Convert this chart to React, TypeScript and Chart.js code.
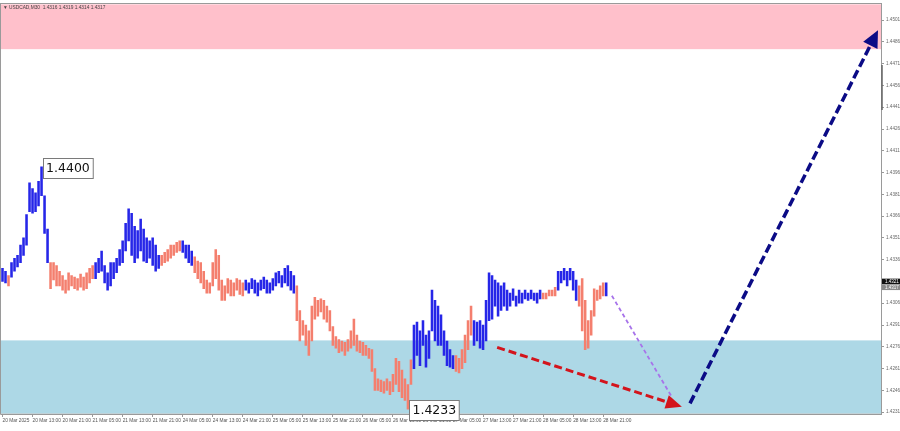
import { useEffect, useRef } from "react";
import { Chart, registerables } from "chart.js";

Chart.register(...registerables);

// ---------- data ----------
const symbolHeader = "\u25BC USDCAD,M30  1.4316 1.4319 1.4314 1.4317";

const timeLabels = [
  "20 Mar 2025", "20 Mar 13:00", "20 Mar 21:00", "21 Mar 05:00", "21 Mar 13:00",
  "21 Mar 21:00", "24 Mar 05:00", "24 Mar 13:00", "24 Mar 21:00", "25 Mar 05:00",
  "25 Mar 13:00", "25 Mar 21:00", "26 Mar 05:00", "26 Mar 13:00", "26 Mar 21:00",
  "27 Mar 05:00", "27 Mar 13:00", "27 Mar 21:00", "28 Mar 05:00", "28 Mar 13:00",
  "28 Mar 21:00",
];
const slotCount = 293;
const labelEvery = 10;

const yTicks = [
  1.4231, 1.4246, 1.4261, 1.4276, 1.4291, 1.4306, 1.4321, 1.4336, 1.4351, 1.4366,
  1.4381, 1.4396, 1.4411, 1.4426, 1.4441, 1.4456, 1.4471, 1.4486, 1.4501,
];
const yMin = 1.42297;
const yMax = 1.45119;

const highs = [
  1.4330, 1.4328, 1.4325, 1.4334, 1.4337, 1.4339, 1.4346, 1.4351, 1.4367, 1.4389,
  1.4385, 1.4382, 1.4390, 1.4400, 1.4380, 1.4357, 1.4334, 1.4334, 1.4332, 1.4328,
  1.4325, 1.4322, 1.4327, 1.4325, 1.4324, 1.4323, 1.4326, 1.4324, 1.4327, 1.4330,
  1.4332, 1.4334, 1.4337, 1.4342, 1.4332, 1.4327, 1.4334, 1.4334, 1.4337, 1.4343,
  1.4349, 1.4361, 1.4371, 1.4368, 1.4359, 1.4356, 1.4364, 1.4357, 1.4351, 1.4349,
  1.4351, 1.4346, 1.4339, 1.4339, 1.4341, 1.4343, 1.4346, 1.4346, 1.4348, 1.4349,
  1.4349, 1.4346, 1.4346, 1.4342, 1.4338, 1.4335, 1.4334, 1.4328, 1.4322, 1.4320,
  1.4334, 1.4343, 1.4339, 1.4322, 1.4318, 1.4323, 1.4322, 1.4320, 1.4323, 1.4322,
  1.4320, 1.4322, 1.4320, 1.4323, 1.4322, 1.4320, 1.4322, 1.4324, 1.4322, 1.4320,
  1.4323, 1.4327, 1.4328, 1.4325, 1.4330, 1.4332, 1.4328, 1.4325, 1.4318, 1.4301,
  1.4294, 1.4291, 1.4287, 1.4304, 1.4310, 1.4308, 1.4309, 1.4308, 1.4304, 1.4301,
  1.4290, 1.4283, 1.4281, 1.4280, 1.4279, 1.4281, 1.4287, 1.4295, 1.4284, 1.4280,
  1.4279, 1.4277, 1.4275, 1.4274, 1.4261, 1.4254, 1.4253, 1.4252, 1.4254, 1.4252,
  1.4257, 1.4268, 1.4266, 1.4260, 1.4254, 1.4250, 1.4267, 1.4291, 1.4293, 1.4287,
  1.4294, 1.4284, 1.4287, 1.4315, 1.4308, 1.4304, 1.4298, 1.4287, 1.4280, 1.4274,
  1.4270, 1.4270, 1.4268, 1.4274, 1.4284, 1.4294, 1.4304, 1.4294, 1.4293, 1.4294,
  1.4291, 1.4308, 1.4327, 1.4325, 1.4322, 1.4320, 1.4318, 1.4320, 1.4315, 1.4313,
  1.4316, 1.4311, 1.4315, 1.4313, 1.4315, 1.4313, 1.4315, 1.4313, 1.4313, 1.4315,
  1.4313, 1.4313, 1.4315, 1.4315, 1.4317, 1.4328, 1.4328, 1.4330, 1.4328, 1.4330,
  1.4328, 1.4322, 1.4318, 1.4323, 1.4308, 1.4294, 1.4301, 1.4316, 1.4315, 1.4318,
  1.4320, 1.4320,
];

const lows = [
  1.4321, 1.4320, 1.4318, 1.4324, 1.4328, 1.4331, 1.4334, 1.4339, 1.4346, 1.4369,
  1.4368, 1.4369, 1.4373, 1.4380, 1.4354, 1.4334, 1.4316, 1.4322, 1.4318, 1.4318,
  1.4315, 1.4313, 1.4315, 1.4318, 1.4316, 1.4315, 1.4317, 1.4315, 1.4316, 1.4320,
  1.4323, 1.4323, 1.4327, 1.4328, 1.4320, 1.4315, 1.4318, 1.4323, 1.4327, 1.4332,
  1.4334, 1.4342, 1.4349, 1.4339, 1.4334, 1.4337, 1.4342, 1.4335, 1.4334, 1.4337,
  1.4332, 1.4328, 1.4330, 1.4332, 1.4334, 1.4335, 1.4337, 1.4339, 1.4341, 1.4342,
  1.4341, 1.4337, 1.4334, 1.4332, 1.4327, 1.4323, 1.4320, 1.4316, 1.4313, 1.4313,
  1.4318, 1.4323, 1.4315, 1.4308, 1.4308, 1.4313, 1.4311, 1.4311, 1.4315, 1.4312,
  1.4311, 1.4315, 1.4313, 1.4316, 1.4313, 1.4311, 1.4315, 1.4316, 1.4313, 1.4313,
  1.4315, 1.4318, 1.4320, 1.4317, 1.4320, 1.4318, 1.4315, 1.4313, 1.4294, 1.4280,
  1.4284, 1.4277, 1.4270, 1.4280, 1.4295, 1.4297, 1.4300, 1.4295, 1.4293, 1.4287,
  1.4277, 1.4275, 1.4272, 1.4273, 1.4270, 1.4273, 1.4275, 1.4277, 1.4273, 1.4272,
  1.4270, 1.4270, 1.4268, 1.4259, 1.4246, 1.4246, 1.4245, 1.4244, 1.4246, 1.4243,
  1.4245, 1.4250, 1.4245, 1.4241, 1.4239, 1.4233, 1.4250, 1.4261, 1.4270, 1.4263,
  1.4277, 1.4262, 1.4268, 1.4287, 1.4280, 1.4277, 1.4277, 1.4270, 1.4263, 1.4262,
  1.4261, 1.4259, 1.4258, 1.4261, 1.4265, 1.4274, 1.4284, 1.4277, 1.4280, 1.4275,
  1.4274, 1.4280, 1.4294, 1.4295, 1.4304, 1.4297, 1.4301, 1.4304, 1.4301, 1.4304,
  1.4308, 1.4304, 1.4306, 1.4306, 1.4309, 1.4308, 1.4309, 1.4308, 1.4306, 1.4309,
  1.4309, 1.4309, 1.4311, 1.4311, 1.4311, 1.4315, 1.4320, 1.4322, 1.4318, 1.4322,
  1.4315, 1.4308, 1.4304, 1.4287, 1.4274, 1.4275, 1.4284, 1.4297, 1.4308, 1.4309,
  1.4311, 1.4311,
];

// wave segments: bar index where each wave starts, and whether it is an up wave
const waveStarts = [0, 2, 3, 16, 31, 53, 60, 64, 81, 98, 137, 151, 157, 180, 185, 192, 201];
const waveUp = [true, false, true, false, true, false, true, false, true, false, true, false, true, false, true, false, true];

const resistanceZone = [1.4481, 1.4512];
const supportZone = [1.4230, 1.42804];

// arrows: [startSlot, startPrice, endSlot, endPrice]
const redArrow = [164.7, 1.42756, 226.2, 1.42347];
const purpleLine = [202.9, 1.43112, 222.8, 1.42416];
const navyArrow = [228.9, 1.4237, 291.5, 1.44941];

const extremeIndex = [13, 135];
const extremeValue = [1.44, 1.4233];

const askPrice = 1.4321;
const bidPrice = 1.4317;

// ---------- styles ----------
const UP = "#2626e8";
const DOWN = "#f47f6e";
const SMALL_FONT = '"Liberation Sans", Arial, sans-serif';

function waveColor(i: number): string {
  let up = true;
  for (let k = 0; k < waveStarts.length; k++) {
    if (i >= waveStarts[k]) up = waveUp[k];
  }
  return up ? UP : DOWN;
}

function slotPx(chart: any, slot: number): number {
  const xs = chart.scales.x;
  const p0 = xs.getPixelForValue(0);
  const p1 = xs.getPixelForValue(1);
  return p0 + slot * (p1 - p0);
}

function drawArrow(
  ctx: CanvasRenderingContext2D,
  x1: number, y1: number, x2: number, y2: number,
  color: string, width: number, dash: number[], headLen: number, headHalf: number
) {
  const ang = Math.atan2(y2 - y1, x2 - x1);
  const cos = Math.cos(ang), sin = Math.sin(ang);
  const ex = headLen > 0 ? x2 - cos * headLen * 0.85 : x2;
  const ey = headLen > 0 ? y2 - sin * headLen * 0.85 : y2;
  ctx.save();
  ctx.strokeStyle = color;
  ctx.lineWidth = width;
  ctx.setLineDash(dash);
  ctx.beginPath();
  ctx.moveTo(x1, y1);
  ctx.lineTo(ex, ey);
  ctx.stroke();
  if (headLen > 0) {
    ctx.setLineDash([]);
    ctx.fillStyle = color;
    const bx = x2 - cos * headLen, by = y2 - sin * headLen;
    ctx.beginPath();
    ctx.moveTo(x2, y2);
    ctx.lineTo(bx - sin * headHalf, by + cos * headHalf);
    ctx.lineTo(bx + sin * headHalf, by - cos * headHalf);
    ctx.closePath();
    ctx.fill();
  }
  ctx.restore();
}

const decorPlugin = {
  id: "decor",
  beforeDatasetsDraw(chart: any) {
    const { ctx, chartArea: a, scales } = chart;
    const y = scales.y;
    ctx.save();
    ctx.beginPath();
    ctx.rect(a.left, a.top, a.width, a.height);
    ctx.clip();
    const r1 = y.getPixelForValue(resistanceZone[1]);
    const r0 = y.getPixelForValue(resistanceZone[0]);
    ctx.fillStyle = "#ffc0cb";
    ctx.fillRect(a.left, r1, a.width, r0 - r1);
    const s1 = y.getPixelForValue(supportZone[1]);
    const s0 = y.getPixelForValue(supportZone[0]);
    ctx.fillStyle = "#add8e6";
    ctx.fillRect(a.left, s1, a.width, s0 - s1);
    ctx.restore();
  },
  afterDatasetsDraw(chart: any) {
    const { ctx, scales } = chart;
    const y = scales.y;
    const P = (arr: number[]) => [
      slotPx(chart, arr[0]), y.getPixelForValue(arr[1]),
      slotPx(chart, arr[2]), y.getPixelForValue(arr[3]),
    ];
    const p = P(purpleLine);
    drawArrow(ctx, p[0], p[1], p[2], p[3], "#a773ea", 1.8, [4, 3], 0, 0);
    const r = P(redArrow);
    drawArrow(ctx, r[0], r[1], r[2], r[3], "#d3141c", 3, [8, 4], 16, 7);
    const n = P(navyArrow);
    drawArrow(ctx, n[0], n[1], n[2], n[3], "#0b0b86", 3.5, [9, 4], 17, 8);
  },
  afterDraw(chart: any) {
    const { ctx, chartArea: a, scales } = chart;
    const y = scales.y;
    ctx.save();
    // plot frame
    ctx.strokeStyle = "#9a9a9a";
    ctx.lineWidth = 1;
    ctx.strokeRect(Math.round(a.left) - 0.5, Math.round(a.top) - 0.5, a.width + 1, a.height + 1);
    // header text
    ctx.fillStyle = "#444";
    ctx.font = `4.8px ${SMALL_FONT}`;
    ctx.textBaseline = "middle";
    ctx.textAlign = "left";
    ctx.fillText(symbolHeader, a.left + 2, a.top + 3.5);
    // scroll handle on price axis
    ctx.strokeStyle = "#666";
    ctx.lineWidth = 1.5;
    ctx.beginPath();
    ctx.moveTo(a.right + 1, 65);
    ctx.lineTo(a.right + 1, 110);
    ctx.stroke();
    // price tags
    const tag = (v: number, bg: string) => {
      const py = y.getPixelForValue(v);
      ctx.fillStyle = bg;
      ctx.fillRect(a.right + 1, py - 2.8, 900 - a.right - 1, 5.6);
      ctx.fillStyle = "#fff";
      ctx.font = `4.5px ${SMALL_FONT}`;
      ctx.fillText(v.toFixed(4), a.right + 4, py + 0.2);
    };
    tag(askPrice, "#111");
    tag(bidPrice, "#8a8a8a");
    // extreme labels
    ctx.font = '12.5px "DejaVu Sans", sans-serif';
    for (let k = 0; k < extremeIndex.length; k++) {
      const px = slotPx(chart, extremeIndex[k]) + 1.5;
      const py = y.getPixelForValue(extremeValue[k]);
      const text = extremeValue[k].toFixed(4);
      const w = ctx.measureText(text).width + 6;
      const top = py - 9;
      ctx.fillStyle = "#fff";
      ctx.fillRect(px, top, w, 20);
      ctx.strokeStyle = "#7a7a7a";
      ctx.lineWidth = 1;
      ctx.strokeRect(Math.round(px) + 0.5, Math.round(top) + 0.5, w, 20);
      ctx.fillStyle = "#111";
      ctx.textBaseline = "middle";
      ctx.fillText(text, px + 3, top + 10.5);
    }
    ctx.restore();
  },
};

export default function App() {
  const ref = useRef<HTMLCanvasElement>(null);
  useEffect(() => {
    document.body.style.margin = "0";
    const labels = Array.from({ length: slotCount }, (_, i) => String(i));
    const data = highs.map((h, i) => [lows[i], h]);
    const colors = highs.map((_, i) => waveColor(i));
    const chart = new Chart(ref.current as HTMLCanvasElement, {
      type: "bar",
      data: {
        labels,
        datasets: [
          {
            data: data as any,
            backgroundColor: colors,
            borderWidth: 0,
            barThickness: 1.9,
            grouped: false,
          } as any,
        ],
      },
      options: {
        animation: false,
        responsive: false,
        maintainAspectRatio: false,
        layout: { padding: { left: 1, top: 0, right: 0, bottom: 0 } },
        plugins: { legend: { display: false }, tooltip: { enabled: false } },
        scales: {
          x: {
            type: "category",
            offset: true,
            grid: {
              display: true,
              drawOnChartArea: false,
              drawTicks: true,
              tickLength: 3,
              offset: false,
              color: (c: any) =>
                c.index % labelEvery === 0 && c.index / labelEvery < timeLabels.length ? "#999" : "rgba(0,0,0,0)",
            },
            border: { display: true, color: "#9a9a9a" },
            ticks: {
              autoSkip: false,
              maxRotation: 0,
              minRotation: 0,
              align: "start",
              padding: 1,
              color: "#555",
              font: { family: SMALL_FONT, size: 4.8 },
              callback: (_v: any, i: number) =>
                i % labelEvery === 0 ? timeLabels[i / labelEvery] ?? "" : "",
            },
            afterFit: (s: any) => {
              s.height = 17;
            },
          } as any,
          y: {
            position: "right",
            min: yMin,
            max: yMax,
            grid: { drawOnChartArea: false, tickLength: 3, color: "#999" },
            border: { display: true, color: "#9a9a9a" },
            ticks: {
              color: "#666",
              padding: 2,
              font: { family: SMALL_FONT, size: 4.6, lineHeight: 1 },
              callback: (v: any) => Number(v).toFixed(4),
            },
            afterBuildTicks: (s: any) => {
              s.ticks = yTicks.map((v) => ({ value: v }));
            },
            afterFit: (s: any) => {
              s.width = 19;
            },
          } as any,
        },
      },
      plugins: [decorPlugin],
    });
    return () => chart.destroy();
  }, []);
  return (
    <div style={{ width: 900, height: 431, background: "#fff" }}>
      <canvas ref={ref} width={900} height={431} style={{ display: "block", width: 900, height: 431 }} />
    </div>
  );
}
